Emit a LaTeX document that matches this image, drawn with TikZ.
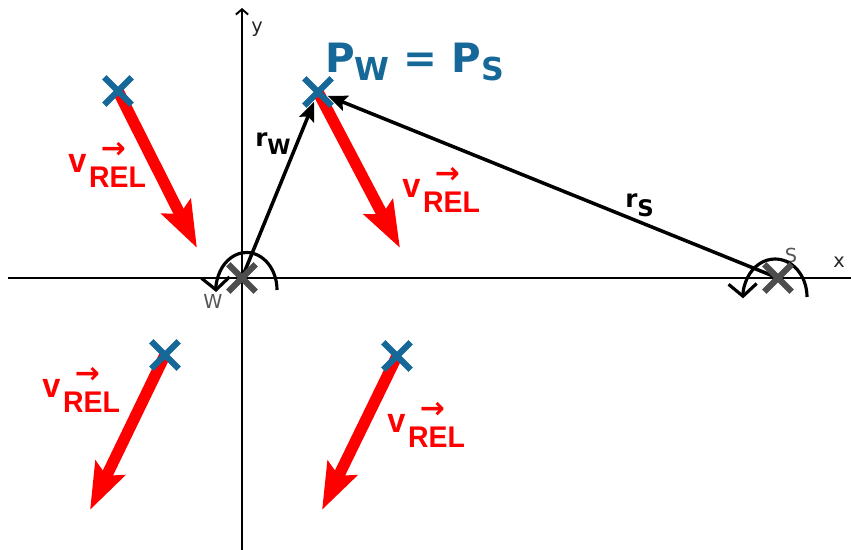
\documentclass[tikz,border=0pt]{standalone}
\usepackage{fontspec}
\setmainfont{DejaVu Sans}
\newfontfamily\relfont[FakeStretch=0.95]{Liberation Sans}
\usepackage{xcolor}
\definecolor{ptblue}{RGB}{22,104,152}
\definecolor{crossgray}{RGB}{77,77,77}
\definecolor{labelgray}{RGB}{85,85,85}
\usepackage{tikz}
\usetikzlibrary{arrows.meta, shapes.misc}

\newcommand{\vrel}{\makebox[0pt][l]{\hspace{18.5pt}\raisebox{8.5pt}{\fontspec{DejaVu Sans Bold}\fontsize{17}{17}\selectfont →}}{\fontsize{19.5}{19.5}\selectfont v}\hspace{1.5pt}\raisebox{-8pt}{REL}}

\begin{document}
\begin{tikzpicture}[x=0.02cm, y=0.02cm,
  crossmark/.style={cross out, draw=#1, line width=3.6pt, minimum size=0.42cm, inner sep=0pt},
  relvec/.style={red, line width=6.5pt, -{Stealth[length=0.92cm, width=0.64cm, inset=0.16cm]}},
  posvec/.style={line width=2pt, -{Stealth[length=11pt, width=9pt, inset=2pt]}, shorten >=6pt},
  spinarc/.style={line width=1.8pt, -{Straight Barb[length=7pt, width=16pt]}},
  vlabel/.style={red, anchor=base west, inner sep=0pt, font=\relfont\fontsize{17}{17}\selectfont\bfseries},
  rlabel/.style={anchor=base west, inner sep=0pt, font=\fontsize{14}{14}\selectfont\bfseries},
  axlabel/.style={font=\fontsize{11}{11}\selectfont}]
  \useasboundingbox (0,0) rectangle (851,550);

  % --- Points ---
  \coordinate (W) at (242,272);
  \coordinate (S) at (778,272);
  \coordinate (P) at (318,458);
  \coordinate (Q1) at (118,459);
  \coordinate (Q2) at (165,195);
  \coordinate (Q3) at (397,194);

  % --- Axes ---
  \coordinate (xl) at (8,272);
  \coordinate (xr) at (851,272);
  \coordinate (yb) at (242,0);
  \coordinate (yt) at (242,542);
  \draw[line width=1.1pt] (xl) -- (xr);
  \draw[line width=1.1pt, -{Straight Barb[length=3pt, width=7pt]}] (yb) -- (yt);
  \node[axlabel, text=black!85] (xlab) at (839,288) {x};
  \node[axlabel, text=black!85] (ylab) at (257,521) {y};
  \node[axlabel, text=labelgray] (wlab) at (213,249) {W};
  \node[axlabel, text=labelgray] (slab) at (791,295) {S};

  % --- Rotation arcs ---
  \draw[spinarc] (277,260) arc[start angle=0, end angle=183, x radius=0.61cm, y radius=0.75cm];
  \draw[spinarc] (807,253) arc[start angle=0, end angle=182, x radius=0.64cm, y radius=0.76cm];

  % --- Relative velocities ---
  \coordinate (P-end) at (400,302);
  \coordinate (Q1-end) at (197,302);
  \coordinate (Q2-end) at (90,40);
  \coordinate (Q3-end) at (322,40);
  \draw[relvec] (Q1) -- (Q1-end);
  \draw[relvec] (P) -- (P-end);
  \draw[relvec] (Q2) -- (Q2-end);
  \draw[relvec] (Q3) -- (Q3-end);
  \node[vlabel] (v1) at (68,377) {\vrel};
  \node[vlabel] (v2) at (402,352) {\vrel};
  \node[vlabel] (v3) at (42,152) {\vrel};
  \node[vlabel] (v4) at (387,117) {\vrel};

  % --- Position vectors ---
  \draw[posvec] (W) -- (P);
  \draw[posvec] (S) -- (P);
  \node[rlabel] (rw) at (255,403) {r\raisebox{-4pt}{\fontsize{12}{12}\selectfont W}};
  \node[rlabel] (rs) at (625,342) {r\raisebox{-5pt}{\fontsize{13}{13}\selectfont S}};

  % --- Marks ---
  \node[crossmark=crossgray] (Wm) at (W) {};
  \node[crossmark=crossgray] (Sm) at (S) {};
  \node[crossmark=ptblue] (Pm) at (P) {};
  \node[crossmark=ptblue] (Q1m) at (Q1) {};
  \node[crossmark=ptblue] (Q2m) at (Q2) {};
  \node[crossmark=ptblue] (Q3m) at (Q3) {};

  % Title
  \node[anchor=base west, inner sep=0pt, text=ptblue, font=\fontsize{23}{23}\selectfont\bfseries] (title) at (325,477)
    {P\raisebox{-4pt}{\fontsize{18}{18}\selectfont W} = P\raisebox{-4pt}{\fontsize{18}{18}\selectfont S}};
\end{tikzpicture}
\end{document}
